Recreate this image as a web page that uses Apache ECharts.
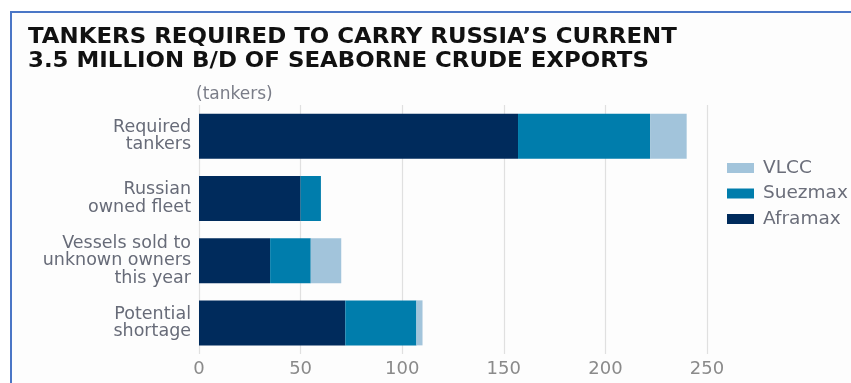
<!DOCTYPE html>
<html>
<head>
<meta charset="utf-8">
<script src="https://cdn.jsdelivr.net/npm/echarts@6/dist/echarts.min.js"></script>
<style>
  html, body { margin: 0; padding: 0; background: #fff; }
  #chart { width: 851px; height: 383px; }
</style>
</head>
<body>
<div id="chart"></div>
<script>
// categories, top to bottom
var categories = [
  'Required\ntankers',
  'Russian\nowned fleet',
  'Vessels sold to\nunknown owners\nthis year',
  'Potential\nshortage'
];
// tankers by class
var aframax = [157, 50, 35, 72];
var suezmax = [65, 10, 20, 35];
var vlcc = [18, 0, 15, 3];
var xTicks = [0, 50, 100, 150, 200, 250];

var chart = echarts.init(document.getElementById('chart'));

var option = {
  animation: false,
  backgroundColor: '#ffffff',
  graphic: [
    {
      // the framed panel, only left and top edges are in view
      type: 'rect',
      z: -10,
      shape: { x: 11, y: 12, width: 900, height: 400 },
      style: { fill: '#fdfdfd', stroke: '#4a76c6', lineWidth: 2 }
    },
    {
      // title, stretched a little to the wider face of the original
      type: 'text',
      x: 28,
      y: 26,
      scaleX: 1.09,
      style: {
        text: 'TANKERS REQUIRED TO CARRY RUSSIA\u2019S CURRENT\n3.5 MILLION B/D OF SEABORNE CRUDE EXPORTS',
        font: 'bold 21px "DejaVu Sans"',
        lineHeight: 23.5,
        fill: '#111111'
      }
    }
  ],
  legend: {
    data: ['VLCC', 'Suezmax', 'Aframax'],
    orient: 'vertical',
    left: 727,
    top: 158.5,
    padding: 0,
    itemWidth: 27,
    itemHeight: 10,
    itemGap: 6.5,
    icon: 'rect',
    textStyle: {
      fontFamily: 'DejaVu Sans',
      fontSize: 18.5,
      lineHeight: 18.5,
      color: '#6b6e7a',
      padding: [0, 0, 0, 4]
    }
  },
  grid: {
    left: 199,
    right: 144,
    top: 105,
    bottom: 29,
    containLabel: false
  },
  xAxis: {
    type: 'value',
    min: xTicks[0],
    max: xTicks[xTicks.length - 1],
    interval: 50,
    axisLine: { show: false },
    axisTick: { show: false },
    splitLine: { show: true, lineStyle: { color: '#e0e0e0', width: 1.2 } },
    axisLabel: {
      margin: 6,
      fontFamily: 'DejaVu Sans',
      fontSize: 18,
      color: '#8a8a8a'
    }
  },
  yAxis: {
    type: 'category',
    data: categories,
    inverse: true,
    name: '(tankers)',
    nameLocation: 'start',
    nameGap: 2,
    nameTextStyle: {
      align: 'left',
      fontFamily: 'DejaVu Sans',
      fontSize: 17,
      color: '#7a7d88',
      padding: [0, 0, 0, -3]
    },
    axisLine: { show: false },
    axisTick: { show: false },
    axisLabel: {
      margin: 8,
      fontFamily: 'DejaVu Sans',
      fontSize: 17.5,
      lineHeight: 17.5,
      color: '#676b78',
      align: 'right'
    }
  },
  series: [
    {
      name: 'Aframax',
      type: 'bar',
      stack: 'total',
      barWidth: 45,
      itemStyle: { color: '#002b5c' },
      data: aframax
    },
    {
      name: 'Suezmax',
      type: 'bar',
      stack: 'total',
      barWidth: 45,
      itemStyle: { color: '#007dac' },
      data: suezmax
    },
    {
      name: 'VLCC',
      type: 'bar',
      stack: 'total',
      barWidth: 45,
      itemStyle: { color: '#a2c4db' },
      data: vlcc
    }
  ]
};

chart.setOption(option);
</script>
</body>
</html>
